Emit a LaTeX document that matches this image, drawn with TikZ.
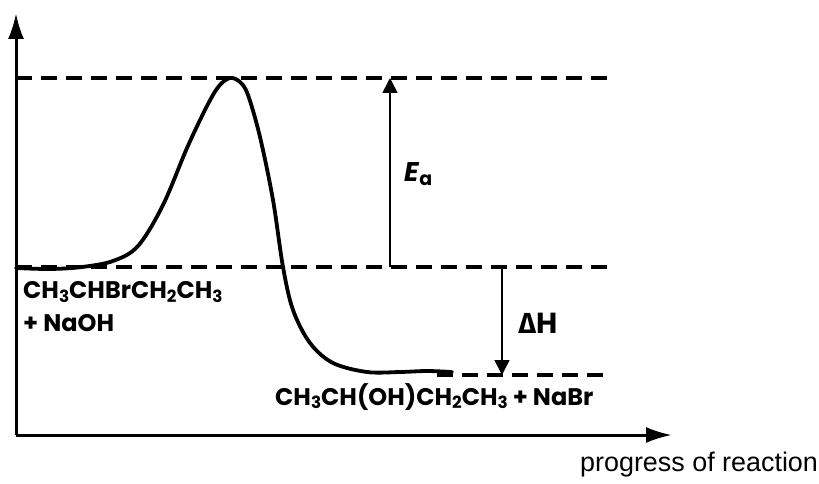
\documentclass[tikz,border=0pt]{standalone}
\usepackage{fontspec}
\setmainfont{Liberation Sans}
\newfontfamily\chemfont{Poppins}
\newfontfamily\greekfont{Fira Sans}
\usetikzlibrary{arrows.meta}
\newcommand{\dsub}[1]{\raisebox{-0.14em}{\scalebox{0.7}{#1}}}
\tikzset{
  axisline/.style={line width=3pt, -{Latex[length=26pt,width=16pt]}},
  level/.style={line width=4.5pt, dash pattern=on 16pt off 9pt},
  energyarrow/.style={line width=1.6pt, -{Triangle[length=15pt,width=15pt]}},
  curveline/.style={line width=3.8pt, line cap=round, line join=round},
  chemlabel/.style={inner sep=0pt, font=\chemfont\bfseries\fontsize{24}{30}\selectfont, align=left},
  ealabel/.style={inner sep=0pt, font=\chemfont\bfseries\fontsize{27}{30}\selectfont},
  biglabel/.style={inner sep=0pt, font=\chemfont\bfseries\fontsize{29}{30}\selectfont},
  axislabel/.style={inner sep=0pt, font=\fontsize{26.9}{30}\selectfont}
}
\begin{document}
\begin{tikzpicture}[x=1pt,y=-1pt]
\useasboundingbox (0,0) rectangle (819,484);
% key coordinates
\coordinate (O) at (16,435);
\coordinate (ytop) at (16,13);
\coordinate (xend) at (672,435);
\coordinate (topL) at (16,78);
\coordinate (topR) at (609,78);
\coordinate (midL) at (16,267);
\coordinate (midR) at (609,267);
\coordinate (botL) at (437,375);
\coordinate (botR) at (609,375);
\coordinate (eaB) at (390,267);
\coordinate (eaT) at (390,78);
\coordinate (dhT) at (502,267);
\coordinate (dhB) at (502,375);
% dashed levels
\draw[level] (topL) -- (topR);
\draw[level] (midL) -- (midR);
\draw[level] (botL) -- (botR);
% axes
\draw[axisline] (O) -- (ytop);
\draw[axisline] (O) -- (xend);
% energy curve
\draw[curveline] plot[smooth, tension=0.55] coordinates {
 (16,268) (50,269) (82,267) (113,261) (138,246) (163,205) (187,148) (207,106)
 (219,86) (230,78) (240,82) (248,95) (260,137) (273,200) (283,267) (293,310)
 (310,343) (333,363) (367,372) (400,372) (427,371) (452,372)};
% arrows
\draw[energyarrow] (eaB) -- (eaT);
\draw[energyarrow] (dhT) -- (dhB);
% labels
\node[ealabel, anchor=west] (ea) at (404,174) {\textit{E}\dsub{a}};
\node[biglabel, anchor=center] (dh) at (538,323) {{\greekfont Δ}H};
\node[chemlabel, anchor=west] (react) at (23,292) {CH\dsub{3}CHBrCH\dsub{2}CH\dsub{3}};
\node[chemlabel, anchor=west] (naoh) at (23,323) {+ NaOH};
\node[chemlabel, anchor=west] (prod) at (275,397) {CH\dsub{3}CH(OH)CH\dsub{2}CH\dsub{3} + NaBr};
\node[axislabel, anchor=base west] (xlab) at (580,471) {progress of reaction};
\end{tikzpicture}
\end{document}
